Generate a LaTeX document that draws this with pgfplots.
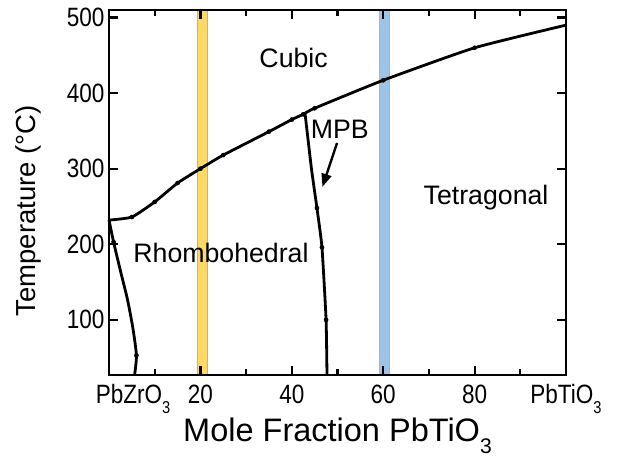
\documentclass[border=0pt]{standalone}
\usepackage{pgfplots}
\pgfplotsset{compat=1.18}
\usepackage{fontspec}
\setmainfont{Liberation Sans}
\newfontfamily\tickfont{Liberation Sans}[FakeStretch=0.85]
\usetikzlibrary{arrows.meta}

\definecolor{bandyellow}{HTML}{FFD966}
\definecolor{bandblue}{HTML}{9DC3E6}
\newcommand{\sub}[1]{\raisebox{-0.38em}{\scalebox{0.65}{#1}}}

\begin{document}
\begin{tikzpicture}
\begin{axis}[
  set layers=standard,
  scale only axis,
  width=457pt, height=365pt,
  xmin=0, xmax=100, ymin=27, ymax=510,
  axis line style={line width=2.6pt},
  xtick={0,20,40,60,80,100},
  xticklabels={\hspace*{48pt}PbZrO\sub{3},20,40,60,80,PbTiO\sub{3}},
  ytick={100,200,300,400,500},
  major tick length=0pt,
  /pgf/number format/assume math mode=true,
  ticklabel style={font=\tickfont\fontsize{26.5}{30}\selectfont},
  x tick label style={yshift=-6pt},
  y tick label style={xshift=-1pt},
  xlabel={Mole Fraction PbTiO\sub{3}},
  ylabel={Temperature (°C)},
  xlabel style={font=\fontsize{32.5}{36}\selectfont, at={(axis description cs:0.5,-0.181)}, anchor=base},
  ylabel style={font=\fontsize{27.5}{31}\selectfont, at={(axis description cs:-0.16,0.45)}, anchor=base},
  clip=false,
  tickline/.style={black, line width=2.2pt, forget plot},
]
% composition bands, kept behind everything else
\addplot[on layer=axis background, fill=bandyellow, draw=black!30, line width=0.5pt]
  coordinates {(19.3,27) (21.4,27) (21.4,510) (19.3,510)} -- cycle;
\addplot[on layer=axis background, fill=bandblue, draw=black!30, line width=0.5pt]
  coordinates {(59.1,27) (61.3,27) (61.3,510) (59.1,510)} -- cycle;

% inward ticks on all four sides (major 9pt, minor 6pt)
\pgfplotsinvokeforeach{20,40,60,80}{
  \addplot[tickline] coordinates {(#1,27) (#1,38.9)};
  \addplot[tickline] coordinates {(#1,510) (#1,498.1)};
}
\pgfplotsinvokeforeach{10,30,50,70,90}{
  \addplot[tickline] coordinates {(#1,27) (#1,34.9)};
  \addplot[tickline] coordinates {(#1,510) (#1,502.1)};
}
\pgfplotsinvokeforeach{100,200,300,400,500}{
  \addplot[tickline] coordinates {(0,#1) (1.97,#1)};
  \addplot[tickline] coordinates {(100,#1) (98.03,#1)};
}

% Curie line (cubic boundary)
\addplot[black, line width=2.8pt, smooth, tension=0.3]
  coordinates {(0,232) (5,236) (10,256) (15,281) (20,300) (25,318)
               (35,349) (40,365) (42.5,372) (45,380) (60,417) (80,460) (100,490)};
\addplot[black, only marks, mark=*, mark size=2.1pt]
  coordinates {(5,236) (10,256) (15,281) (20,300) (25,318)
               (35,349) (40,365) (42.5,372) (45,380) (60,417) (80,460)};

% low-temperature boundary near PbZrO3
\addplot[black, line width=2.8pt, smooth, tension=0.4]
  coordinates {(0,232) (1,203) (2.5,165) (4,128) (5.2,90) (6,53) (5.6,27)};
\addplot[black, only marks, mark=*, mark size=2.1pt]
  coordinates {(1,203) (6,53)};

% morphotropic phase boundary
\addplot[black, line width=2.8pt, smooth, tension=0.3]
  coordinates {(42.9,373) (44.3,300) (45.5,248) (46.6,196) (47.5,100) (47.7,27)};
\addplot[black, only marks, mark=*, mark size=2.1pt]
  coordinates {(45.5,248) (46.6,196) (47.5,100)};

% arrow pointing at the MPB
\addplot[black, line width=2.4pt, -{Triangle[length=13pt, width=10pt]}]
  coordinates {(49.9,334) (46.7,276)};

\node[font=\fontsize{26.7}{30}\selectfont] at (axis cs:40.4,447) {Cubic};
\node[font=\fontsize{26.7}{30}\selectfont] at (axis cs:50.5,352) {MPB};
\node[font=\fontsize{26.7}{30}\selectfont] at (axis cs:82.5,262) {Tetragonal};
\node[font=\fontsize{26.7}{30}\selectfont] at (axis cs:24.5,189) {Rhombohedral};
\end{axis}
\pgfresetboundingbox
\path ([shift={(-109pt,-82pt)}]current axis.south west) rectangle ([shift={(53pt,10pt)}]current axis.north east);
\end{tikzpicture}
\end{document}
